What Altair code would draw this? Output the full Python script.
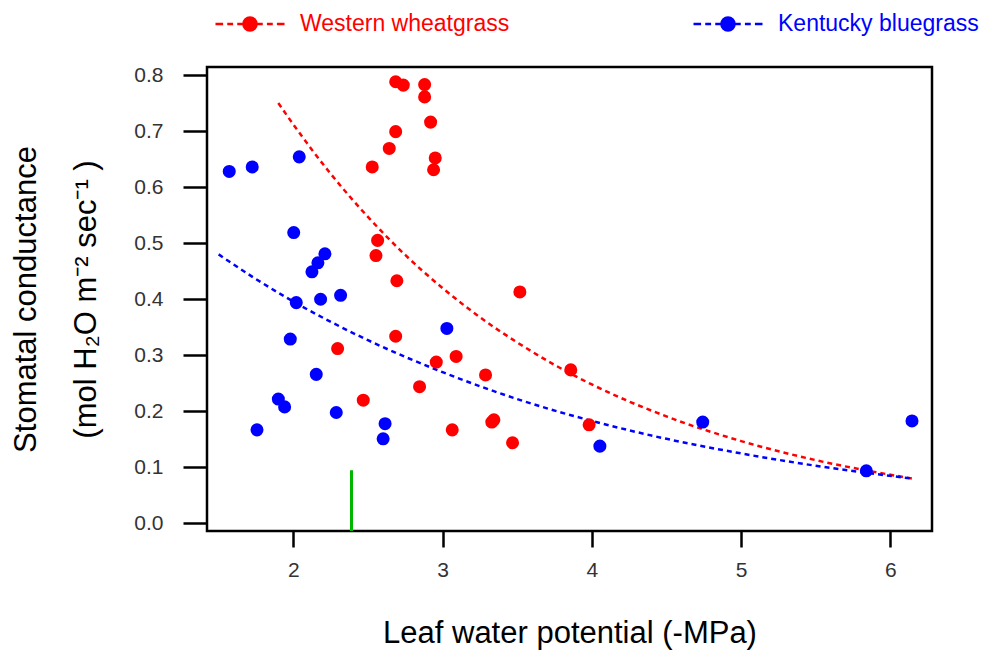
import altair as alt
import pandas as pd

species = ['Western wheatgrass', 'Kentucky bluegrass']
colors = ['#ff0000', '#0000ff']

# measured points
wheat_x = [2.686, 2.737, 2.880, 2.880, 2.920, 2.686, 2.643, 2.951, 2.940, 2.529,
           2.565, 2.554, 2.694, 3.518, 2.686, 2.297, 2.958, 3.091, 3.288, 3.859,
           2.846, 2.469, 3.065, 3.330, 3.344, 3.469, 3.982]
wheat_y = [0.788, 0.782, 0.783, 0.761, 0.716, 0.699, 0.669, 0.652, 0.631, 0.636,
           0.505, 0.478, 0.433, 0.413, 0.334, 0.312, 0.288, 0.298, 0.265, 0.274,
           0.244, 0.220, 0.167, 0.181, 0.185, 0.144, 0.176]

blue_x = [1.571, 1.725, 2.040, 2.003, 2.212, 2.165, 2.125, 2.020, 2.183, 2.317,
          3.029, 1.980, 2.154, 1.900, 1.942, 2.288, 2.615, 2.602, 1.757, 4.054,
          4.743, 5.839, 6.145]
blue_y = [0.628, 0.636, 0.654, 0.519, 0.481, 0.465, 0.449, 0.394, 0.400, 0.407,
          0.348, 0.329, 0.266, 0.222, 0.208, 0.198, 0.178, 0.151, 0.167, 0.138,
          0.181, 0.094, 0.183]

# fitted curves
wheat_fit_x = [1.90, 2.00, 2.25, 2.50, 2.75, 3.00, 3.25, 3.50, 3.75, 4.00, 4.50, 5.00, 5.50, 6.15]
wheat_fit_y = [0.750, 0.712, 0.624, 0.547, 0.479, 0.420, 0.368, 0.323, 0.283, 0.248, 0.191, 0.147, 0.113, 0.080]
blue_fit_x = [1.50, 1.75, 2.00, 2.50, 3.00, 3.50, 4.00, 4.50, 5.00, 5.50, 6.15]
blue_fit_y = [0.480, 0.436, 0.396, 0.327, 0.270, 0.222, 0.183, 0.151, 0.125, 0.103, 0.080]

# green marker
marker_x = [2.39]
marker_top = [0.095]

x_min, x_max = 1.422, 6.279
y_min, y_max = -0.0134, 0.8143

FONT = 'Liberation Sans, Arial, sans-serif'

pts = pd.concat([
    pd.DataFrame({'x': wheat_x, 'y': wheat_y, 'species': species[0]}),
    pd.DataFrame({'x': blue_x, 'y': blue_y, 'species': species[1]}),
])
fits = pd.concat([
    pd.DataFrame({'x': wheat_fit_x, 'y': wheat_fit_y, 'species': species[0]}),
    pd.DataFrame({'x': blue_fit_x, 'y': blue_fit_y, 'species': species[1]}),
])
marker = pd.DataFrame({'x': marker_x, 'y': marker_top})

xscale = alt.Scale(domain=[x_min, x_max], nice=False, zero=False)
yscale = alt.Scale(domain=[y_min, y_max], nice=False, zero=False)
cscale = alt.Scale(domain=species, range=colors)

xaxis = alt.Axis(values=[2, 3, 4, 5, 6], format='d', tickSize=16, labelPadding=12,
                 title='Leaf water potential (-MPa)', titleY=111, titleBaseline='alphabetic')
yaxis = alt.Axis(values=[0, 0.1, 0.2, 0.3, 0.4, 0.5, 0.6, 0.7, 0.8], format='.1f',
                 tickSize=24, labelPadding=20,
                 title=['Stomatal conductance', '(mol H\u2082O m\u207b\u00b2 sec\u207b\u00b9 )'],
                 titleX=-172, titleY=232, titleAngle=270, titleAlign='center',
                 titleBaseline='alphabetic', titleLineHeight=60)

legend_shape = ('M-1,0 L-0.78,0 M-0.66,0 L-0.49,0 M-0.37,0 L-0.22,0 '
                'M0.22,0 L0.37,0 M0.49,0 L0.66,0 M0.78,0 L1,0 '
                'M-0.19,0 A0.19,0.19 0 1,0 0.19,0 A0.19,0.19 0 1,0 -0.19,0 Z')
by_species = alt.ExprRef(expr="scale('color', datum.value)")

legend = alt.Legend(
    title=None, orient='none', legendX=7, legendY=-79, direction='horizontal',
    columns=2, columnPadding=178, padding=0, offset=0,
    symbolType=legend_shape, symbolSize=4761, symbolStrokeWidth=2.5,
    symbolStrokeColor=by_species, symbolFillColor=by_species, symbolOpacity=1,
    labelFontSize=23, labelOffset=14, labelFont=FONT, labelColor=by_species,
    labelLimit=500,
)

lines = alt.Chart(fits).mark_line(strokeDash=[5, 4], strokeWidth=2.5, interpolate='monotone').encode(
    x=alt.X('x:Q', scale=xscale, axis=xaxis),
    y=alt.Y('y:Q', scale=yscale, axis=yaxis),
    color=alt.Color('species:N', scale=cscale, legend=legend),
    detail='species:N',
)

dots = alt.Chart(pts).mark_circle(size=170, opacity=1).encode(
    x=alt.X('x:Q', scale=xscale),
    y=alt.Y('y:Q', scale=yscale),
    color=alt.Color('species:N', scale=cscale, legend=legend),
)

rule = alt.Chart(marker).mark_rule(color='#00b400', strokeWidth=3).encode(
    x=alt.X('x:Q', scale=xscale),
    y=alt.Y('y:Q', scale=yscale),
    y2=alt.datum(y_min),
)

chart = alt.layer(lines, rule, dots).properties(
    width=725, height=464,
    autosize=alt.AutoSizeParams(type='none'),
    padding={'left': 199, 'top': 59, 'right': 55, 'bottom': 122},
).configure_view(
    stroke='black', strokeWidth=2.5
).configure_axis(
    grid=False, domain=False, tickColor='black', tickWidth=2.5,
    labelFont=FONT, labelFontSize=21, labelColor='#333',
    titleFont=FONT, titleFontSize=31, titleFontWeight='normal', titleColor='black',
)

chart.save('out.html', embed_options={'renderer': 'svg', 'actions': False})
